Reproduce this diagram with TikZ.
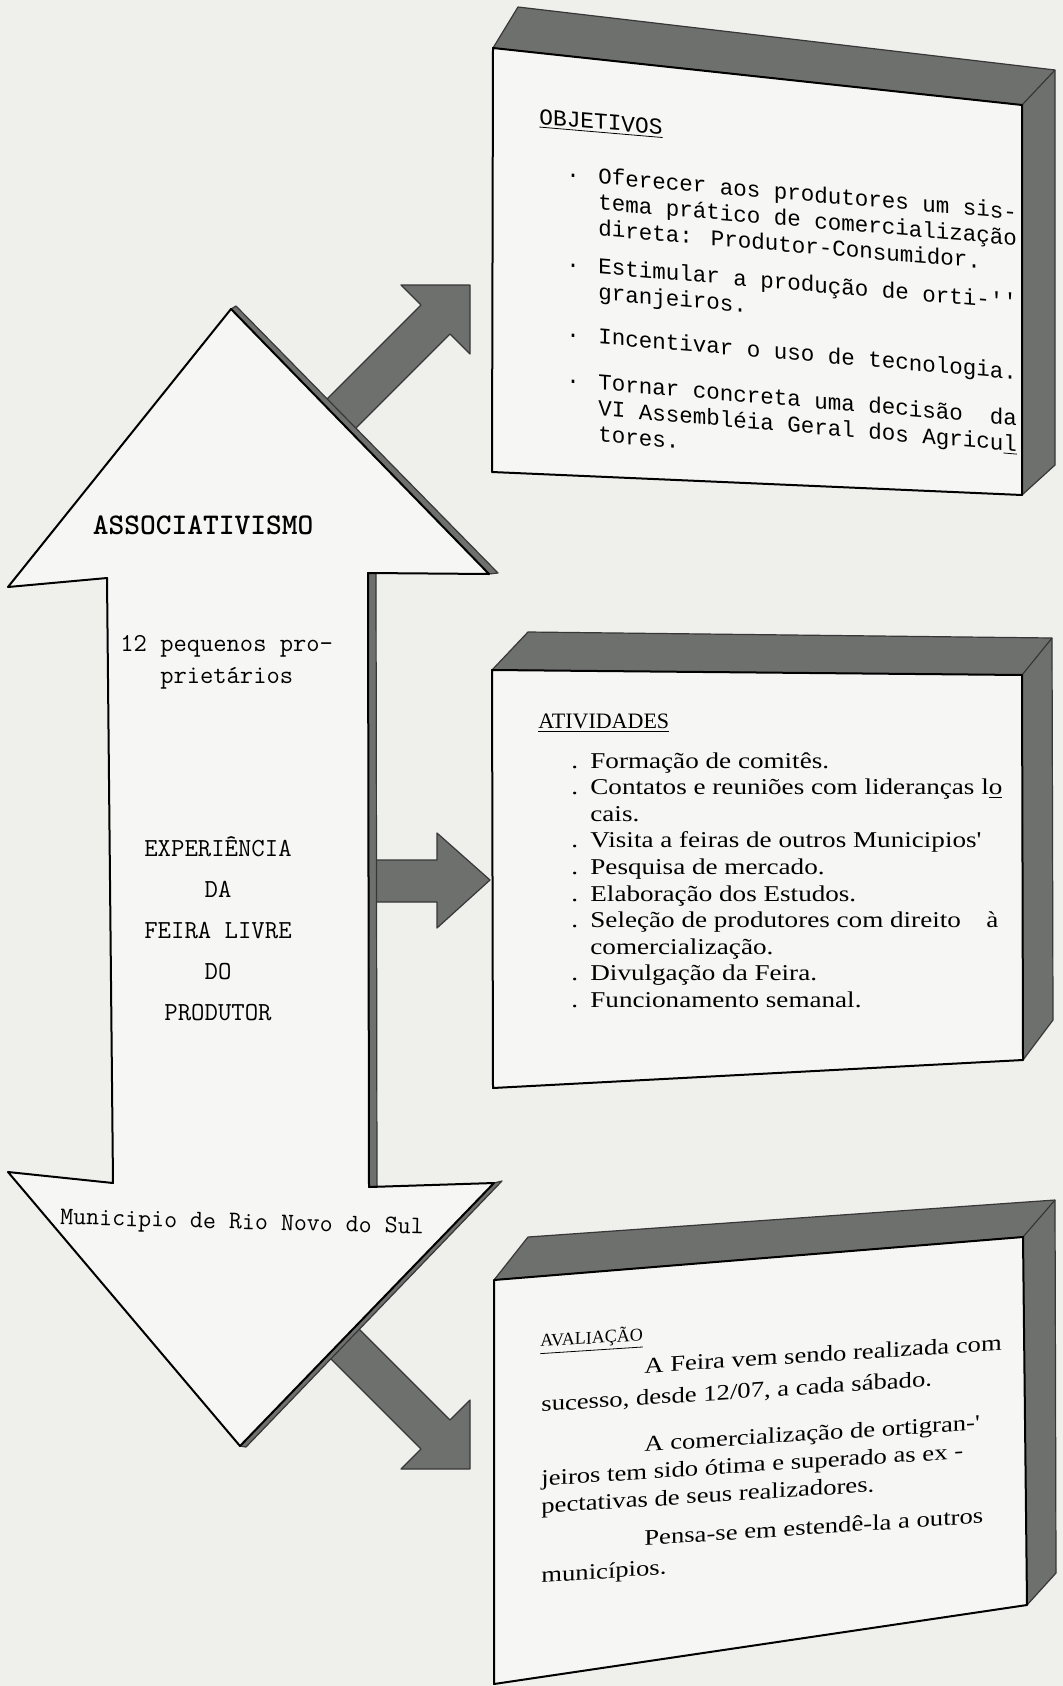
\documentclass[tikz,border=0pt]{standalone}
\usepackage{fontspec}
\newfontfamily\typemono{Liberation Mono}
\newfontfamily\typeserif[FakeStretch=1.2]{Liberation Serif}
\newfontfamily\plainserif{Liberation Serif}
\definecolor{paper}{RGB}{239,239,236}
\definecolor{sheet}{RGB}{246,246,244}
\definecolor{slab}{RGB}{110,112,110}
\definecolor{slabedge}{RGB}{55,55,55}

\begin{document}
\begin{tikzpicture}[x=0.5pt,y=-0.5pt,
	face/.style={fill=sheet,draw=black,line width=1pt,line join=round},
	slabside/.style={fill=slab,draw=slabedge,line width=0.6pt,line join=round},
	fat arrow/.style={fill=slab,draw=slabedge,line width=0.6pt,line join=round},
	objfont/.style={font=\typemono\fontsize{11.25}{13}\selectfont,inner sep=0pt,yslant=-0.085},
	listfont/.style={font=\typeserif\fontsize{11.3}{13.3}\selectfont,inner sep=0pt},
	armtext/.style={font=\ttfamily\fontsize{12.9}{16}\selectfont,inner sep=0pt}]

			\fill[paper] (0,0) rectangle (1063,1686);
			\useasboundingbox (0,0) rectangle (1063,1686);

			\filldraw[fat arrow] (311,415) -- (421,305) -- (401,285) -- (470,285) -- (470,354) -- (450,334) -- (340,444) -- cycle;
			\filldraw[fat arrow] (360,860) -- (437,860) -- (437,833) -- (490,880) -- (437,928) -- (437,902) -- (360,902) -- cycle;
			\filldraw[fat arrow] (340,1310) -- (450,1420) -- (470,1400) -- (470,1469) -- (401,1469) -- (421,1449) -- (311,1339) -- cycle;

			\coordinate (top) at (231,309);
			\coordinate (ur) at (489,574);
			\coordinate (rs1) at (368,573);
			\coordinate (rs2) at (369,1187);
			\coordinate (lr) at (494,1183);
			\coordinate (bot) at (240,1446);
			\coordinate (ll) at (8,1172);
			\coordinate (ls2) at (113,1183);
			\coordinate (ls1) at (107,578);
			\coordinate (ul) at (8,587);

			\filldraw[slabside] (top) -- (236,306) -- (498,573) -- (ur) -- cycle;
			\filldraw[slabside] (rs1) -- (376,573) -- (377,1186) -- (rs2) -- cycle;
			\filldraw[slabside] (lr) -- (502,1181) -- (246,1447) -- (bot) -- cycle;
			\filldraw[face] (top) -- (ur) -- (rs1) -- (rs2) -- (lr) -- (bot) -- (ll) -- (ls2) -- (ls1) -- (ul) -- cycle;

			\coordinate (a1) at (493,48);
			\coordinate (b1) at (1022,105);
			\coordinate (c1) at (1022,495);
			\coordinate (d1) at (492,472);
			\coordinate (e1) at (518,7);
			\coordinate (f1) at (1055,70);
			\coordinate (g1) at (1055,465);
			\filldraw[slabside] (a1) -- (e1) -- (f1) -- (g1) -- (c1) -- (b1) -- cycle;
			\draw[slabedge,line width=0.6pt] (b1) -- (f1);
			\filldraw[face] (a1) -- (b1) -- (c1) -- (d1) -- cycle;

			\coordinate (a2) at (492,670);
			\coordinate (b2) at (1022,675);
			\coordinate (c2) at (1023,1060);
			\coordinate (d2) at (493,1088);
			\coordinate (e2) at (528,632);
			\coordinate (f2) at (1052,638);
			\coordinate (g2) at (1053,1020);
			\filldraw[slabside] (a2) -- (e2) -- (f2) -- (g2) -- (c2) -- (b2) -- cycle;
			\draw[slabedge,line width=0.6pt] (b2) -- (f2);
			\filldraw[face] (a2) -- (b2) -- (c2) -- (d2) -- cycle;

			\coordinate (a3) at (494,1280);
			\coordinate (b3) at (1023,1237);
			\coordinate (c3) at (1027,1605);
			\coordinate (d3) at (494,1684);
			\coordinate (e3) at (528,1237);
			\coordinate (f3) at (1055,1200);
			\coordinate (g3) at (1056,1573);
			\filldraw[slabside] (a3) -- (e3) -- (f3) -- (g3) -- (c3) -- (b3) -- cycle;
			\draw[slabedge,line width=0.6pt] (b3) -- (f3);
			\filldraw[face] (a3) -- (b3) -- (c3) -- (d3) -- cycle;

			\node[objfont,font=\typemono\fontsize{11.4}{13}\selectfont,anchor=base west] (objtitle) at (539,124) {\underline{OBJETIVOS}};
			\node[objfont,anchor=base west] (objlist) at (566,181) {\begin{tabular}[t]{@{}p{16pt}@{}l@{}}
				· & Oferecer aos produtores um sis-\\
				  & tema prático de comercialização\\
				  & direta: Produtor-Consumidor.\\[6pt]
				· & Estimular a produção de orti-\textquotesingle\textquotesingle\\
				  & granjeiros.\\[9pt]
				· & Incentivar o uso de tecnologia.\\[10pt]
				· & Tornar concreta uma decisão\ \ da\\
				  & VI Assembléia Geral dos Agricu\underline{l}\\
				  & tores.
			\end{tabular}};

			\node[font=\plainserif\fontsize{11}{13}\selectfont,inner sep=0pt,anchor=base west] (acttitle) at (538,728) {\underline{ATIVIDADES}};
			\node[listfont,anchor=base west] (actlist) at (571,768) {\begin{tabular}[t]{@{}p{9.5pt}@{}l@{}}
				. & Formação de comitês.\\
				. & Contatos e reuniões com lideranças l\underline{o}\\
				  & cais.\\
				. & Visita a feiras de outros Municipios\textquotesingle\\
				. & Pesquisa de mercado.\\
				. & Elaboração dos Estudos.\\
				. & \makebox[204pt][l]{Seleção de produtores com direito\hfill à}\\
				  & comercialização.\\
				. & Divulgação da Feira.\\
				. & Funcionamento semanal.
			\end{tabular}};

			\node[font=\plainserif\fontsize{9}{11}\selectfont,inner sep=0pt,anchor=base west,yslant=0.065] (evaltitle) at (540,1347) {\underline{AVALIAÇÃO}};
			\node[listfont,font=\typeserif\fontsize{11.1}{13.8}\selectfont,anchor=base west,yslant=0.065] (evaltext) at (541,1380) {\begin{tabular}[t]{@{}l@{}}
				\hspace*{51.5pt}A Feira vem sendo realizada com\\[2pt]
				sucesso, desde 12/07, a cada sábado.\\[9.5pt]
				\hspace*{51.5pt}A comercialização de ortigran-\textquotesingle\\
				jeiros tem sido ótima e superado as ex -\\
				pectativas de seus realizadores.\\[5.5pt]
				\hspace*{51.5pt}Pensa-se em estendê-la a outros\\[1.5pt]
				municípios.
			\end{tabular}};

			\node[font=\ttfamily\bfseries\fontsize{15}{18}\selectfont,inner sep=0pt] (assoc) at (203,525) {ASSOCIATIVISMO};
			\node[armtext,anchor=base west] (owners) at (120,651) {\begin{tabular}[t]{@{}l@{}}
				12 pequenos pro-\\
				\phantom{12 }prietários
			\end{tabular}};
			\node[font=\ttfamily\fontsize{13}{20.5}\selectfont,inner sep=0pt,align=center] (fair) at (218,929) {EXPERIÊNCIA\\DA\\FEIRA LIVRE\\DO\\PRODUTOR};
			\node[armtext,font=\ttfamily\fontsize{12.6}{16}\selectfont,rotate=-1.5] (town) at (242,1224) {Municipio de Rio Novo do Sul};
		\end{tikzpicture}
\end{document}
